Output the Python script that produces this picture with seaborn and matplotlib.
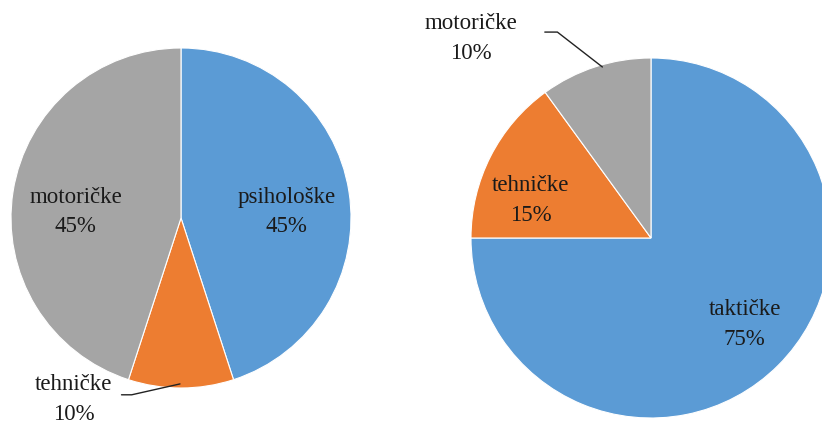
import matplotlib
matplotlib.use("Agg")
import matplotlib.pyplot as plt
import seaborn as sns

# Data
left_labels = ["psihološke", "tehničke", "motoričke"]
left_values = [45, 10, 45]
right_labels = ["taktičke", "tehničke", "motoričke"]
right_values = [75, 15, 10]

colors = ["#5B9BD5", "#ED7D31", "#A5A5A5"]

sns.set_theme(style="white")
plt.rcParams["font.family"] = ["Liberation Serif", "DejaVu Serif"]

W, H = 822, 426
fig = plt.figure(figsize=(W / 100, H / 100), dpi=100)
fig.patch.set_facecolor("white")


def pie_axes(cx, cy, r):
    return fig.add_axes([(cx - r) / W, (H - cy - r) / H, 2 * r / W, 2 * r / H])


def draw_pie(ax, values):
    ax.pie(values, colors=colors, startangle=90, counterclock=False,
           wedgeprops=dict(edgecolor="white", linewidth=0.8))
    ax.set_xlim(-1, 1)
    ax.set_ylim(-1, 1)
    ax.set_aspect("equal")
    ax.axis("off")


txt = dict(fontsize=16.5, color="#1a1a1a", ha="center", va="center",
           linespacing=1.55)

# Left pie
axL = pie_axes(181, 218, 170)
draw_pie(axL, left_values)
axL.text(0.62, 0.035, f"{left_labels[0]}\n{left_values[0]}%", **txt)
axL.text(-0.62, 0.035, f"{left_labels[2]}\n{left_values[2]}%", **txt)
axL.text(-0.63, -1.07, f"{left_labels[1]}\n{left_values[1]}%", clip_on=False, **txt)
axL.plot([-0.35, -0.29, -0.006], [-1.04, -1.04, -0.976], color="#222222",
         lw=1.0, clip_on=False)

# Right pie
axR = pie_axes(651, 238, 180)
draw_pie(axR, right_values)
axR.text(-0.67, 0.21, f"{right_labels[1]}\n{right_values[1]}%", **txt)
axR.text(0.52, -0.48, f"{right_labels[0]}\n{right_values[0]}%", **txt)
axR.text(-1.0, 1.11, f"{right_labels[2]}\n{right_values[2]}%", clip_on=False, **txt)
axR.plot([-0.59, -0.52, -0.27], [1.144, 1.144, 0.95], color="#222222",
         lw=1.0, clip_on=False)

fig.savefig("out.png", dpi=100, facecolor="white")
